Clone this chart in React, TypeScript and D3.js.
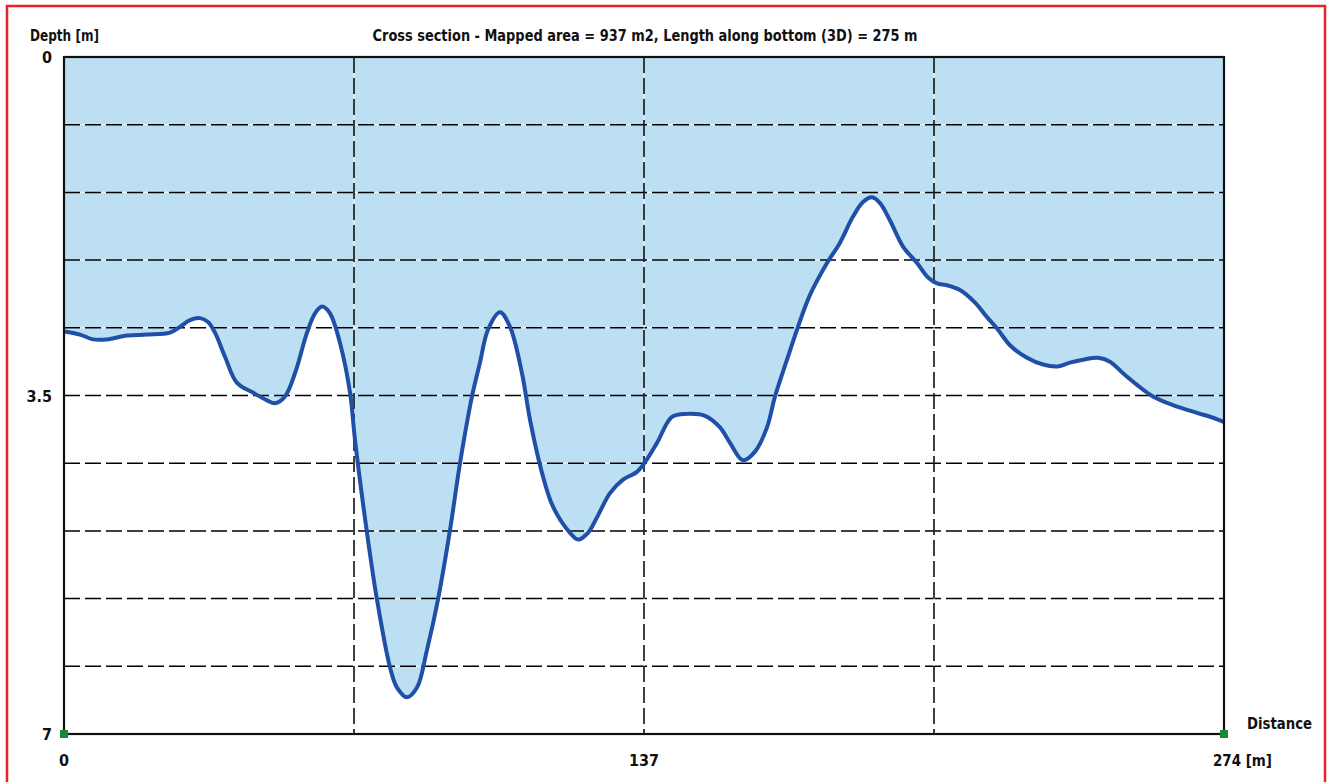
import React from "react";
import * as d3 from "d3";

// Bottom profile along the cross section: distance [m] and depth [m]
const distance = [
  0.47, 3.78, 6.85, 10.16, 14.88, 19.61, 25.04, 27.4, 29.76, 32.12, 34.01, 35.67, 38.03, 40.86, 44.64, 47.95,
  49.84, 52.2, 54.56, 57.4, 59.29, 60.94, 62.83, 65.2, 67.56, 68.74, 71.57, 73.93, 77.0, 78.66, 81.02, 83.38,
  85.74, 88.34, 91.18, 93.54, 96.37, 98.26, 100.15, 102.99, 105.35, 108.18, 110.07, 112.91, 115.51, 119.52,
  121.41, 123.77, 125.9, 128.97, 132.04, 135.35, 137.23, 140.07, 143.61, 147.16, 151.41, 154.95, 157.31,
  160.38, 163.22, 166.05, 167.94, 170.78, 173.14, 176.21, 180.23, 183.3, 186.37, 188.73, 190.86, 192.75,
  195.11, 198.18, 201.49, 204.09, 206.21, 208.57, 211.64, 215.19, 218.02, 220.62, 223.45, 227.47, 231.25,
  234.55, 237.62, 240.7, 244.24, 247.07, 250.14, 253.45, 257.23, 261.95, 267.62, 271.4, 273.76,
];
const depth = [
  2.84, 2.87, 2.92, 2.92, 2.88, 2.87, 2.85, 2.79, 2.72, 2.7, 2.74, 2.85, 3.1, 3.37, 3.47, 3.55,
  3.58, 3.51, 3.27, 2.85, 2.65, 2.58, 2.65, 2.96, 3.47, 3.96, 4.92, 5.61, 6.31, 6.52, 6.62, 6.52,
  6.13, 5.61, 4.89, 4.2, 3.51, 3.16, 2.82, 2.64, 2.79, 3.27, 3.75, 4.3, 4.65, 4.92,
  4.99, 4.92, 4.76, 4.51, 4.37, 4.29, 4.19, 3.99, 3.72, 3.69, 3.71, 3.83, 3.99,
  4.17, 4.08, 3.83, 3.51, 3.13, 2.82, 2.46, 2.13, 1.92, 1.65, 1.5, 1.45, 1.51,
  1.69, 1.96, 2.13, 2.28, 2.34, 2.36, 2.41, 2.54, 2.69, 2.82, 2.98, 3.11, 3.18,
  3.2, 3.16, 3.13, 3.11, 3.15, 3.27, 3.39, 3.51, 3.6, 3.68, 3.73, 3.77,
];

const xTicks = [0, 137, 274];
const yTicks = [0, 3.5, 7];
const xGrid = [68.5, 137, 205.5];
const yGrid = [0.7, 1.4, 2.1, 2.8, 3.5, 4.2, 4.9, 5.6, 6.3];

const title = "Cross section - Mapped area = 937 m2, Length along bottom (3D) = 275 m";

const W = 1327;
const H = 782;
const left = 64;
const right = 1224;
const top = 57;
const bottom = 734;

const FONT = "'Liberation Sans Narrow', 'DejaVu Sans Condensed', 'Arial Narrow', sans-serif";

export default function App() {
  const x = d3.scaleLinear().domain([0, 274]).range([left, right]);
  const y = d3.scaleLinear().domain([0, 7]).range([top, bottom]);

  const pts: [number, number][] = distance.map((d, i) => [d, depth[i]]);
  const full: [number, number][] = [[0, pts[0][1]], ...pts, [274, depth[depth.length - 1]]];

  const line = d3
    .line<[number, number]>()
    .x((p) => x(p[0]))
    .y((p) => y(p[1]))
    .curve(d3.curveCatmullRom.alpha(0.5));

  const area = d3
    .area<[number, number]>()
    .x((p) => x(p[0]))
    .y0(y(0))
    .y1((p) => y(p[1]))
    .curve(d3.curveCatmullRom.alpha(0.5));

  const water = "#bcdff4";
  const profile = "#1f4fa6";

  return (
    <svg
      width={W}
      height={H}
      style={{ position: "absolute", left: 0, top: 0, background: "#fff" }}
      fontFamily={FONT}
      fontWeight="bold"
    >
      <rect x={0} y={0} width={W} height={H} fill="#fff" />
      {/* outer frame */}
      <rect x={7} y={6} width={1318} height={800} fill="none" stroke="#e8222b" strokeWidth={2.5} />

      {/* water body above the bottom profile */}
      <path d={area(full) ?? ""} fill={water} />

      {/* grid */}
      {yGrid.map((v) => (
        <g key={"h" + v}>
          <line x1={left} x2={right} y1={y(v)} y2={y(v)} stroke="#ffffff" strokeOpacity={0.7} strokeWidth={1.2} />
          <line
            x1={left}
            x2={right}
            y1={y(v)}
            y2={y(v)}
            stroke="#000"
            strokeWidth={1.5}
            strokeDasharray="16 5"
          />
        </g>
      ))}
      {xGrid.map((v) => (
        <g key={"v" + v}>
          <line x1={x(v)} x2={x(v)} y1={top} y2={bottom} stroke="#ffffff" strokeOpacity={0.7} strokeWidth={1.2} />
          <line
            x1={x(v)}
            x2={x(v)}
            y1={top}
            y2={bottom}
            stroke="#000"
            strokeWidth={1.5}
            strokeDasharray="16 5"
          />
        </g>
      ))}

      {/* bottom profile */}
      <path d={line(full.slice(1, -1)) ?? ""} fill="none" stroke={profile} strokeWidth={4} strokeLinejoin="round" strokeLinecap="round" />

      {/* plot frame */}
      <rect x={left} y={top} width={right - left} height={bottom - top} fill="none" stroke="#111" strokeWidth={2.2} />
      <rect x={left - 4} y={bottom - 4} width={8} height={8} fill="#178a35" />
      <rect x={right - 4} y={bottom - 4} width={8} height={8} fill="#178a35" />

      {/* labels */}
      <text x={30} y={41} fontSize={16} fill="#111" textLength={69} lengthAdjust="spacingAndGlyphs">
        Depth [m]
      </text>
      <text x={645} y={41} fontSize={16} fill="#111" textAnchor="middle" textLength={545} lengthAdjust="spacingAndGlyphs">
        {title}
      </text>
      {yTicks.map((v) => (
        <text key={"yl" + v} x={52} y={y(v) + 6} fontSize={16} fill="#111" textAnchor="end">
          {v}
        </text>
      ))}
      {xTicks.map((v, i) =>
        i < xTicks.length - 1 ? (
          <text key={"xl" + v} x={x(v)} y={766} fontSize={16} fill="#111" textAnchor="middle">
            {v}
          </text>
        ) : (
          <text key={"xl" + v} x={x(v) - 11} y={766} fontSize={16} fill="#111" textLength={59} lengthAdjust="spacingAndGlyphs">
            {v} [m]
          </text>
        )
      )}
      <text x={1247} y={729} fontSize={16} fill="#111" textLength={65} lengthAdjust="spacingAndGlyphs">
        Distance
      </text>
    </svg>
  );
}
